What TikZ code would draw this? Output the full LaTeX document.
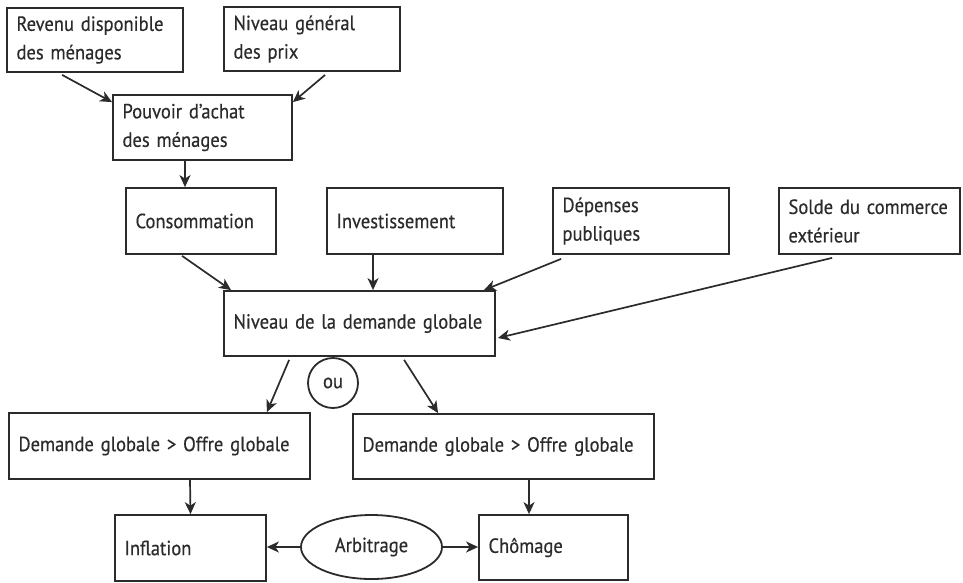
\documentclass[tikz,border=0pt]{standalone}
\usepackage{fontspec}
\setmainfont[FakeStretch=0.905,FakeBold=0.4]{PT Sans}
\usetikzlibrary{arrows.meta,shapes.geometric}
\definecolor{ink}{HTML}{2B2B2B}
\tikzset{
  box/.style={draw=ink, text=ink, line width=1.8pt, rectangle, inner xsep=9.5pt, inner ysep=0pt,
    align=left, font=\fontsize{20.5}{28.5}\selectfont},
  arr/.style={draw=ink, line width=1.7pt, -{Stealth[length=12pt,width=11pt,inset=3.5pt]}},
}
\newcommand{\bx}[7]{% name, left, top, right, bottom, text
  \node[box, minimum width={(#4-#2)*1pt}, minimum height={(#5-#3)*1pt}, text width={(#4-#2-19)*1pt}]
    (#1) at ({(#2+#4)/2},{(#3+#5)/2}) {#6};}
\begin{document}
\begin{tikzpicture}[x=1pt,y=-1pt]
\useasboundingbox (0,0) rectangle (963,582);
\bx{rev}{7}{8}{183}{72}{Revenu disponible\\des ménages}{}
\bx{prix}{224}{7}{400}{71}{Niveau général\\des prix}{}
\bx{pouv}{113}{95}{292}{160}{Pouvoir d’achat\\des ménages}{}
\bx{cons}{126}{188}{276}{254}{Consommation}{}
\bx{inv}{327}{188}{503}{254}{Investissement}{}
\bx{dep}{553}{188}{729}{254}{Dépenses\\publiques}{}
\bx{sol}{779}{188}{960}{254}{Solde du commerce\\extérieur}{}
\bx{niv}{224}{291}{495}{356}{Niveau de la demande globale}{}
\bx{dgl}{9}{413}{310}{479}{Demande globale > Offre globale}{}
\bx{dgr}{353}{414}{654}{479}{Demande globale > Offre globale}{}
\bx{inf}{115}{515}{266}{581}{Inflation}{}
\bx{cho}{479}{515}{628}{580}{Chômage}{}
\node[draw=ink, text=ink, line width=1.8pt, circle, minimum size=50pt, inner sep=0pt,
  font=\fontsize{20.5}{28.5}\selectfont] (ou) at (333,383) {ou};
\node[draw=ink, text=ink, line width=1.8pt, ellipse, minimum width=141pt, minimum height=64pt, inner sep=0pt,
  font=\fontsize{20.5}{28.5}\selectfont] (arb) at (371.5,547) {Arbitrage};

\draw[arr] ([xshift=56pt,yshift=-2pt]rev.south west) -- ([yshift=-8pt]pouv.north west);
\draw[arr] ([xshift=102pt,yshift=-3pt]prix.south west) -- ([yshift=-8pt]pouv.north east);
\draw[arr] ([xshift=-17.5pt]pouv.south) -- ([xshift=-16pt]cons.north);
\draw[arr] ([xshift=57pt,yshift=-1pt]cons.south west) -- ([xshift=8pt]niv.north west);
\draw[arr] ([xshift=-42pt]inv.south) -- ([xshift=13.5pt]niv.north);
\draw[arr] ([xshift=9pt,yshift=-4pt]dep.south west) -- ([xshift=-12pt]niv.north east);
\draw[arr] ([xshift=54pt,yshift=-3pt]sol.south west) -- ([xshift=2pt,yshift=-14.5pt]niv.east);
\draw[arr] ([xshift=66pt,yshift=-3pt]niv.south west) -- ([xshift=-44pt]dgl.north east);
\draw[arr] ([xshift=181pt,yshift=-3pt]niv.south west) -- ([xshift=86pt]dgr.north west);
\draw[arr] ([xshift=30.5pt]dgl.south) -- (inf.north);
\draw[arr] ([xshift=25.5pt]dgr.south) -- ([xshift=-24.5pt]cho.north);
\draw[arr] (arb.west) -- (arb.west -| inf.east);
\draw[arr] (arb.east) -- (arb.east -| cho.west);
\end{tikzpicture}
\end{document}
